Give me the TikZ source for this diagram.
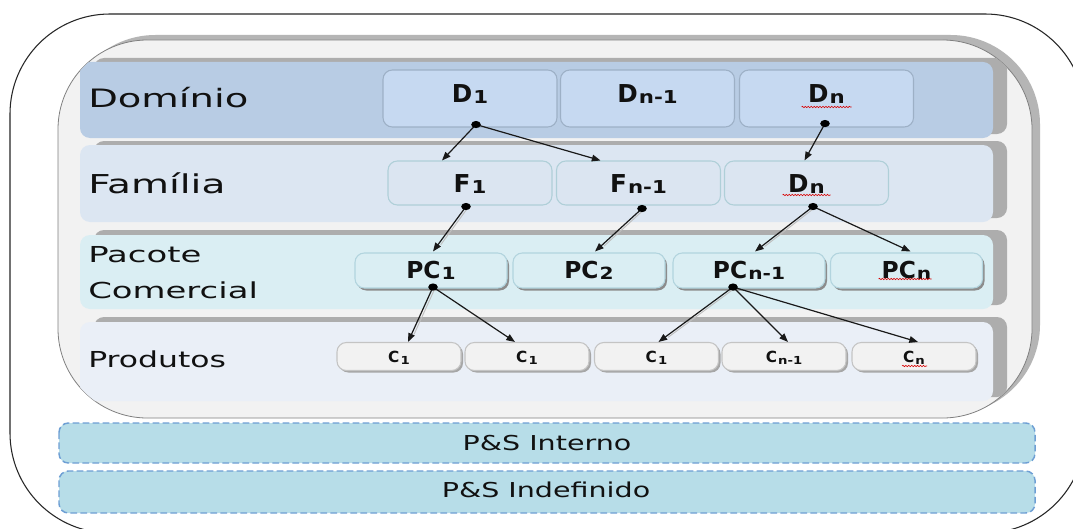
\documentclass[tikz,border=0pt]{standalone}
\usepackage{fontspec}
\setmainfont{DejaVu Sans}
\usepackage{graphicx}
\usetikzlibrary{calc,arrows.meta,decorations.pathmorphing}
\definecolor{bandD}{HTML}{B8CCE4}
\definecolor{bandF}{HTML}{DCE6F2}
\definecolor{bandP}{HTML}{DAEEF3}
\definecolor{bandC}{HTML}{EAEFF7}
\definecolor{bandsh}{HTML}{ADADAD}
\definecolor{dfill}{HTML}{C6D9F1}
\definecolor{dline}{HTML}{9DB0C6}
\definecolor{ffill}{HTML}{DBE5F1}
\definecolor{fline}{HTML}{AFCFD8}
\definecolor{pfill}{HTML}{DAEEF3}
\definecolor{pline}{HTML}{B2D4DE}
\definecolor{cfill}{HTML}{F2F2F2}
\definecolor{cline}{HTML}{C4C4C4}
\definecolor{psfill}{HTML}{B7DDE8}
\definecolor{psline}{HTML}{6E9FD4}
\definecolor{innerfill}{HTML}{F2F2F2}
\definecolor{innersh}{HTML}{B5B5B5}
\definecolor{txt}{HTML}{111111}
\makeatletter
\newcommand\lsub[1]{{\dimen@=\f@size pt\relax\dimen@=0.72\dimen@\edef\lsubsz{\strip@pt\dimen@}\kern0.8pt\raisebox{-1.3pt}{\scalebox{1.2}[1]{\fontsize{\lsubsz}{\lsubsz}\selectfont #1}}}}
\makeatother
\newcommand\labtext[3]{\scalebox{#1}[1]{\fontsize{#2}{#2}\selectfont #3}}
\begin{document}
\begin{tikzpicture}[
  x=0.75pt, y=-0.75pt,
  boxbase/.style={rounded corners=7pt, line width=0.8pt, inner sep=0pt, text=txt, font=\bfseries},
  dbox/.style={boxbase, draw=dline, fill=dfill, minimum width=130.5pt, minimum height=42.75pt,
    text height=5.25pt, text depth=0pt, font=\bfseries\fontsize{18.5pt}{18.5pt}\selectfont},
  fbox/.style={boxbase, draw=fline, fill=ffill, minimum width=123pt, minimum height=33pt,
    text height=13.5pt, text depth=0pt, font=\bfseries\fontsize{18.5pt}{18.5pt}\selectfont},
  pcbox/.style={boxbase, draw=pline, fill=pfill, minimum width=114pt, minimum height=26.25pt,
    text height=11.25pt, text depth=0pt, font=\bfseries\fontsize{17.5pt}{17.5pt}\selectfont},
  cbox/.style={boxbase, draw=cline, fill=cfill, minimum width=93pt, minimum height=21pt,
    text height=9.5pt, text depth=0pt, font=\bfseries\fontsize{11.5pt}{11.5pt}\selectfont},
  boxshadow/.style={fill=black!45, rounded corners=7pt},
  lab/.style={inner sep=0pt, text=txt},
  conn/.style={draw=black!90, line width=0.9pt, -{Triangle[length=6.5pt,width=5pt]}},
  connsh/.style={draw=black!25, line width=0.7pt, shorten >=7pt},
  dot/.style={fill=black},
  spell/.style={draw=red!85!black, line width=0.45pt, decorate,
    decoration={snake, amplitude=0.5pt, segment length=2.2pt}},
  band/.style={rounded corners=7.5pt},
  psbox/.style={draw=psline, fill=psfill, dashed, dash pattern=on 5pt off 2.5pt, line width=1.1pt, rounded corners=7pt}
]
\useasboundingbox (0,0) rectangle (1073,528);
\fill[white] (0,0) rectangle (1073,528);
\clip (0,0) rectangle (1073,528);

% outer frame
\draw[black!85, line width=0.8pt, rounded corners=75pt] (10,14) rectangle (1085,533);

% inner box
\fill[innersh, rounded corners=67pt] (66,35) rectangle (1040,414);
\draw[black!50, fill=innerfill, line width=0.6pt, rounded corners=67pt] (58,40) rectangle (1032,418);

% bands with shadows, kept inside the inner box
\begin{scope}
\clip[rounded corners=66pt] (58.5,40.5) rectangle (1031.5,417.5);
\fill[bandsh, band] (94,58) rectangle (1007,134);
\fill[bandD, band] (80,62) rectangle (993,138);
\fill[bandsh, band] (94,141) rectangle (1007,218);
\fill[bandF, band] (80,145) rectangle (993,222);
\fill[bandsh, band] (94,230) rectangle (1007,305);
\fill[bandP, band] (80,235) rectangle (993,309);
\fill[bandsh, band] (94,317) rectangle (1007,397);
\fill[bandC, band] (80,322) rectangle (993,401);
\end{scope}

% layer labels
\node[lab, anchor=base west] (lDom) at (88,108) {\labtext{1.52}{19pt}{Domínio}};
\node[lab, anchor=base west] (lFam) at (88,193) {\labtext{1.50}{19.5pt}{Família}};
\node[lab, anchor=base west] (lPac) at (88,262) {\labtext{1.54}{16.5pt}{Pacote}};
\node[lab, anchor=base west] (lCom) at (88,298) {\labtext{1.54}{16.5pt}{Comercial}};
\node[lab, anchor=base west] (lPro) at (88,367) {\labtext{1.43}{16.5pt}{Produtos}};

% P&S boxes
\draw[psbox] (59,423) rectangle (1035,463);
\draw[psbox] (59,471) rectangle (1035,513);
\node[lab, anchor=base] (psI) at (547,450) {\labtext{1.39}{15.4pt}{P\&S Interno}};
\node[lab, anchor=base] (psU) at (546,497) {\labtext{1.39}{15.4pt}{P\&S Indefinido}};

% Domain boxes
\node[dbox] (D1) at (470,98.5) {D\lsub{1}};
\node[dbox] (Dn1) at (647.5,98.5) {D\lsub{n-1}};
\node[dbox] (Dn) at (826.5,98.5) {D\lsub{n}};

% Family boxes
\node[fbox] (F1) at (470,183) {F\lsub{1}};
\node[fbox] (Fn1) at (638.5,183) {F\lsub{n-1}};
\node[fbox] (FDn) at (806.5,183) {D\lsub{n}};

% Commercial package boxes (with shadows)
\foreach \xx in {431,589,749,906.5}
  \fill[boxshadow] (\xx-74,255.5) rectangle (\xx+78,290.5);
\node[pcbox] (PC1) at (431,270.5) {PC\lsub{1}};
\node[pcbox] (PC2) at (589,270.5) {PC\lsub{2}};
\node[pcbox] (PCn1) at (749,270.5) {PC\lsub{n-1}};
\node[pcbox] (PCn) at (906.5,270.5) {PC\lsub{n}};

% Product boxes (with shadows)
\foreach \xx in {399,527,656.5,784,914}
  \fill[boxshadow, fill=black!35] (\xx-60,344.5) rectangle (\xx+64,372.5);
\node[cbox] (Ca) at (399,356.5) {C\lsub{1}};
\node[cbox] (Cb) at (527,356.5) {C\lsub{1}};
\node[cbox] (Cc) at (656.5,356.5) {C\lsub{1}};
\node[cbox] (Cd) at (784,356.5) {C\lsub{n-1}};
\node[cbox] (Ce) at (914,356.5) {C\lsub{n}};

% spelling underlines
\draw[spell] ($(Dn.center)+(-25,8.5)$) -- ($(Dn.center)+(25,8.5)$);
\draw[spell] ($(FDn.center)+(-24,12)$) -- ($(FDn.center)+(24,12)$);
\draw[spell] ($(PCn.center)+(-28,8.5)$) -- ($(PCn.center)+(25,8.5)$);
\draw[spell] ($(Ce.center)+(-12,9.5)$) -- ($(Ce.center)+(13,9.5)$);

% connector origins
\coordinate (d1) at ($(D1.south)+(6,-3)$);
\coordinate (dn) at ($(Dn.south)+(-1.5,-4)$);
\coordinate (f1) at ($(F1.south)+(-4,1)$);
\coordinate (fn1) at ($(Fn1.south)+(3.5,3)$);
\coordinate (fdn) at ($(FDn.south)+(6.5,1)$);
\coordinate (pc1) at ($(PC1.south)+(2,-1.5)$);
\coordinate (pcn1) at ($(PCn1.south)+(-16,-1.5)$);

% connector targets
\coordinate (tF1) at ($(F1.north)+(-28,0)$);
\coordinate (tFn1) at ($(Fn1.north)+(-38,0)$);
\coordinate (tFDn) at ($(FDn.north)+(-2,0)$);
\coordinate (tPC1) at ($(PC1.north)+(2,-1)$);
\coordinate (tPC2) at ($(PC2.north)+(6,-1)$);
\coordinate (tPCn1) at ($(PCn1.north)+(6,-1)$);
\coordinate (tPCn) at ($(PCn.north)+(4,-1)$);
\coordinate (tCa) at ($(Ca.north)+(9,0)$);
\coordinate (tCb) at ($(Cb.north)+(-12,0)$);
\coordinate (tCc) at ($(Cc.north)+(2,0)$);
\coordinate (tCd) at ($(Cd.north)+(4,0)$);
\coordinate (tCe) at ($(Ce.north)+(4,0)$);

% connector shadows
\foreach \a/\b in {f1/tPC1, fn1/tPC2, fdn/tPCn1, pc1/tCa, pcn1/tCc}
  \draw[connsh] ($(\a)+(2.2,0.8)$) -- ($(\b)+(2.2,0.8)$);

% connectors
\draw[conn] (d1) -- (tF1);
\draw[conn] (d1) -- (tFn1);
\draw[conn] (dn) -- (tFDn);
\draw[conn] (f1) -- (tPC1);
\draw[conn] (fn1) -- (tPC2);
\draw[conn] (fdn) -- (tPCn1);
\draw[conn] (fdn) -- (tPCn);
\draw[conn] (pc1) -- (tCa);
\draw[conn] (pc1) -- (tCb);
\draw[conn] (pcn1) -- (tCc);
\draw[conn] (pcn1) -- (tCd);
\draw[conn] (pcn1) -- (tCe);

% dots
\foreach \p in {d1,dn,f1,fn1,fdn,pc1,pcn1}
  \fill[dot] (\p) ellipse [x radius=3.6pt, y radius=2.7pt];
\end{tikzpicture}
\end{document}
